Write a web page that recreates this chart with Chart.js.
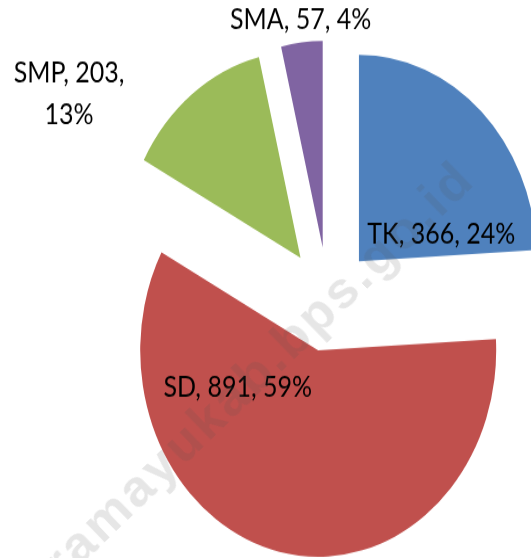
<!DOCTYPE html>
<html>
<head>
<meta charset="utf-8">
<script src="https://cdn.jsdelivr.net/npm/chart.js@4/dist/chart.umd.min.js"></script>
<style>
  html, body { margin: 0; padding: 0; background: #fff; overflow: hidden; }
  #wrap { position: relative; width: 531px; height: 558px; overflow: hidden; }
  /* the source picture is stretched vertically, so stretch the canvas too */
  #pieChart { display: block; transform: scaleY(1.16); transform-origin: 0 0; }
  #mark {
    position: absolute; left: 226px; top: 400px;
    transform: translate(-50%, -50%) rotate(-44deg);
    font: bold 52px "Liberation Sans", Arial, sans-serif;
    letter-spacing: 3px; white-space: nowrap;
    color: rgba(80, 80, 80, 0.14); pointer-events: none;
  }
</style>
</head>
<body>
<div id="wrap">
  <canvas id="pieChart" width="531" height="481"></canvas>
  <div id="mark">indramayukab.bps.go.id</div>
</div>
<script>
// DATA
const labels = ['TK', 'SD', 'SMP', 'SMA'];
const values = [366, 891, 203, 57];

// STYLE
const colors = ['#4F81BD', '#C0504D', '#9BBB59', '#8064A2'];
const explode = [45, 45, 45, 45];
// label anchor relative to each slice centre, in units of the radius
const labelPos = [[0.463, -0.130], [-0.452, 0.179], [-1.30, -0.794], [-0.124, -1.104]];
const labelWrap = [false, false, true, false];

const total = values.reduce((a, b) => a + b, 0);

// EXPLODE SLICES
const explodePlugin = {
    id: 'explode',
    afterDatasetsUpdate(chart) {
        const meta = chart.getDatasetMeta(0);
        meta.data.forEach((arc, i) => {
            const mid = (arc.startAngle + arc.endAngle) / 2;
            arc.x += Math.cos(mid) * explode[i];
            arc.y += Math.sin(mid) * explode[i];
        });
    }
};

// DATA LABELS
const labelPlugin = {
    id: 'sliceLabels',
    afterDatasetsDraw(chart) {
        const ctx = chart.ctx;
        const meta = chart.getDatasetMeta(0);
        ctx.save();
        ctx.font = '25px Lato, "Open Sans", sans-serif';
        ctx.fillStyle = '#000';
        ctx.textAlign = 'center';
        ctx.textBaseline = 'middle';
        meta.data.forEach((arc, i) => {
            const r = arc.outerRadius;
            const x = arc.x + labelPos[i][0] * r;
            const y = arc.y + labelPos[i][1] * r;
            const pct = Math.round(values[i] / total * 100) + '%';
            const lines = labelWrap[i]
                ? [labels[i] + ', ' + values[i] + ',', pct]
                : [labels[i] + ', ' + values[i] + ', ' + pct];
            const lh = 36;
            lines.forEach((t, j) => {
                ctx.fillText(t, x, y + (j - (lines.length - 1) / 2) * lh);
            });
        });
        ctx.restore();
    }
};

new Chart(document.getElementById('pieChart'), {
    type: 'pie',
    data: {
        labels: labels,
        datasets: [{
            data: values,
            backgroundColor: colors,
            borderWidth: 0
        }]
    },
    options: {
        responsive: false,
        animation: false,
        events: [],
        layout: { padding: { left: 150, top: 80, right: 25, bottom: 45 } },
        plugins: {
            legend: { display: false },
            tooltip: { enabled: false }
        }
    },
    plugins: [explodePlugin, labelPlugin]
});
</script>
</body>
</html>
